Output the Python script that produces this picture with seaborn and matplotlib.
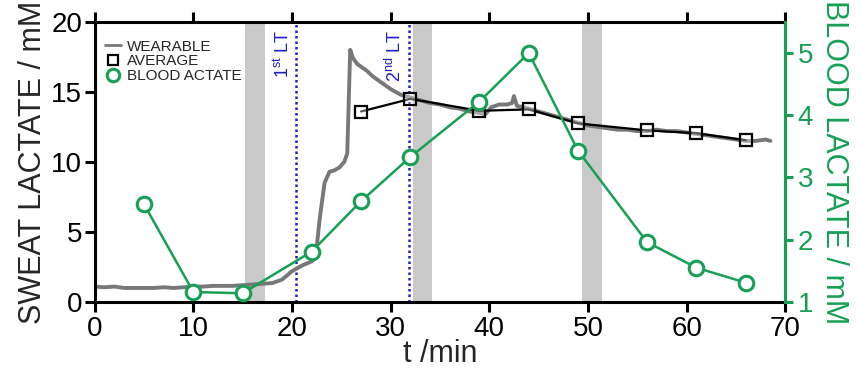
import matplotlib
matplotlib.use("Agg")
import matplotlib.pyplot as plt
import seaborn as sns
import pandas as pd
from matplotlib.lines import Line2D

# ---- data ----
wear_t = [0, 1, 2, 3, 4, 5, 6, 7, 8, 9, 10, 11, 12, 13, 14, 15, 16, 17, 18, 19,
          20, 21, 22, 22.4, 22.8, 23.3, 23.8, 24.3, 24.8, 25.3, 25.6, 25.9, 26.2,
          26.6, 27, 27.6, 28.2, 29.2, 30, 31, 32, 33, 34, 35, 36, 37, 38, 39,
          39.6, 40.2, 41, 41.8, 42.3, 42.5, 42.8, 43.5, 44, 45, 46, 47, 48, 49,
          50, 51, 52, 53, 54, 55, 56, 57, 58, 59, 60, 61, 62, 63, 64, 65, 66,
          67, 68, 68.5]
wear_v = [1.1, 1.05, 1.1, 1.0, 1.0, 1.0, 1.0, 1.05, 1.0, 1.05, 1.1, 1.1, 1.15,
          1.15, 1.15, 1.2, 1.25, 1.3, 1.35, 1.6, 2.2, 2.6, 2.9, 3.2, 5.9, 8.5,
          9.3, 9.4, 9.6, 10.0, 10.6, 18.0, 17.4, 17.0, 16.8, 16.5, 16.1, 15.6,
          15.2, 14.8, 14.6, 14.4, 14.2, 14.1, 13.9, 13.8, 13.6, 13.5, 13.4, 13.9,
          14.1, 14.1, 14.2, 14.7, 14.0, 13.9, 13.8, 13.6, 13.4, 13.2, 13.0, 12.8,
          12.6, 12.5, 12.4, 12.3, 12.3, 12.2, 12.2, 12.3, 12.2, 12.2, 12.1, 12.0,
          11.9, 11.8, 11.7, 11.6, 11.5, 11.5, 11.6, 11.5]

avg_t = [27, 32, 39, 44, 49, 56, 61, 66]
avg_v = [13.6, 14.5, 13.65, 13.75, 12.75, 12.25, 12.05, 11.55]

blood_t = [5, 10, 15, 22, 27, 32, 39, 44, 49, 56, 61, 66]
blood_v = [2.57, 1.16, 1.14, 1.81, 2.62, 3.33, 4.22, 5.0, 3.43, 1.96, 1.55, 1.31]

bands = [(15.2, 17.25), (32.3, 34.2), (49.4, 51.4)]
lt_lines = [20.45, 31.9]
lt_labels = ["1$^{\\mathrm{st}}$ LT", "2$^{\\mathrm{nd}}$ LT"]

x_ticks = [0, 10, 20, 30, 40, 50, 60, 70]
y_ticks = [0, 5, 10, 15, 20]
y2_ticks = [1, 2, 3, 4, 5]

GREEN = "#17a055"
BLUE = "#2020c4"
GRAY = "#787878"

sns.set_theme(style="white")
plt.rcParams["font.family"] = ["Liberation Sans", "DejaVu Sans"]
plt.rcParams["mathtext.fontset"] = "custom"
plt.rcParams["mathtext.rm"] = "Liberation Sans"

fig = plt.figure(figsize=(8.61, 3.77), dpi=100)
ax = fig.add_axes([0.110, 0.199, 0.802, 0.743])
ax2 = ax.twinx()

for a, b in bands:
    ax.axvspan(a, b, color="#c9c9c9", lw=0, zorder=0)
for x, lab in zip(lt_lines, lt_labels):
    ax.axvline(x, color=BLUE, ls=(0, (1, 1.2)), lw=1.8, zorder=1)
    ax.text(x - 0.4, 19.45, lab, rotation=90, ha="right", va="top",
            color=BLUE, fontsize=13)

wdf = pd.DataFrame({"t": wear_t, "v": wear_v})
adf = pd.DataFrame({"t": avg_t, "v": avg_v})
bdf = pd.DataFrame({"t": blood_t, "v": blood_v})

sns.lineplot(data=wdf, x="t", y="v", ax=ax, color=GRAY, lw=2.8, zorder=2)
sns.lineplot(data=adf, x="t", y="v", ax=ax, color="black", lw=1.6,
             marker="s", markersize=8.5, markerfacecolor=(1, 1, 1, 0.35),
             markeredgecolor="black", markeredgewidth=1.6, zorder=3)
sns.lineplot(data=bdf, x="t", y="v", ax=ax2, color=GREEN, lw=1.8,
             marker="o", markersize=10.5, markerfacecolor="white",
             markeredgecolor=GREEN, markeredgewidth=2.2, zorder=4)

ax.set_xlim(0, 70)
ax.set_ylim(0, 20)
ax2.set_ylim(1, 5.5)
ax.set_xticks(x_ticks)
ax.set_yticks(y_ticks)
ax2.set_yticks(y2_ticks)

ax.set_xlabel("t /min", fontsize=22, labelpad=-2)
ax.set_ylabel("SWEAT LACTATE / mM", fontsize=22, labelpad=2)
ax2.set_ylabel("BLOOD LACTATE / mM", fontsize=22, color=GREEN, rotation=270,
               labelpad=26)

for s in ax.spines.values():
    s.set_linewidth(2.2)
    s.set_color("black")
for s in ax2.spines.values():
    s.set_linewidth(2.2)
ax2.spines["right"].set_color(GREEN)
ax2.spines["left"].set_visible(False)
ax2.spines["top"].set_visible(False)
ax2.spines["bottom"].set_visible(False)

ax.tick_params(axis="both", direction="out", length=7, width=2.2,
               labelsize=20, colors="black", top=True, bottom=True, left=True,
               pad=2)
ax.tick_params(axis="x", labeltop=False, pad=3)
ax2.tick_params(axis="y", direction="out", length=6, width=2.2, labelsize=20,
                colors=GREEN, right=True, pad=3)

handles = [Line2D([], [], color=GRAY, lw=2),
           Line2D([], [], color="black", marker="s", ls="none", markersize=7.5,
                  markerfacecolor="white", markeredgewidth=1.6),
           Line2D([], [], color=GREEN, marker="o", ls="none", markersize=9,
                  markerfacecolor="white", markeredgewidth=2.2)]
ax.legend(handles, ["WEARABLE", "AVERAGE", "BLOOD ACTATE"], loc="upper left",
          bbox_to_anchor=(0.0, 0.975), frameon=False, fontsize=11,
          handlelength=1.0, handletextpad=0.4, labelspacing=0.05,
          borderaxespad=0.3)

fig.savefig("out.png", dpi=100)
